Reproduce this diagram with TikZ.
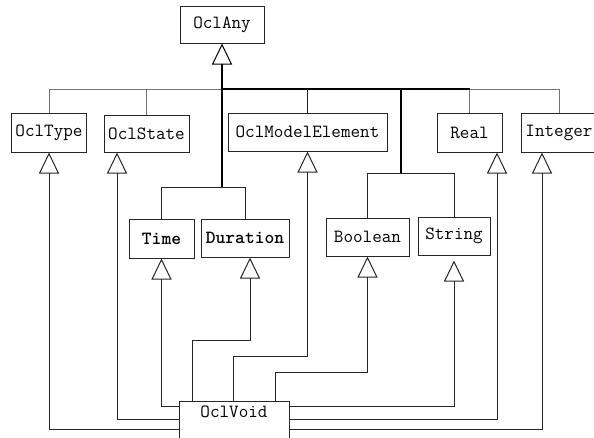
\documentclass[tikz,border=0pt]{standalone}
\usetikzlibrary{arrows.meta}

\tikzset{
  cls/.style={draw=black!85, line width=1pt, inner sep=0pt, font=\ttfamily\fontsize{18.6}{21}\selectfont},
  gen/.style={draw=black!85, line width=1pt, -{Triangle[open, length=21pt, width=20pt, line width=1pt]}},
  link/.style={draw=black!85, line width=1pt},
  dim/.style={draw=black!55, line width=1pt},
  trunk/.style={draw=black, line width=2pt},
}

\begin{document}
\begin{tikzpicture}[x=1pt, y=-1pt]
        \useasboundingbox (0,0) rectangle (594,437);
        \clip (0,0) rectangle (594,437);

        % Classes
        \node[cls, minimum width=84pt, minimum height=37pt] (oclany) at (222,24.5) {OclAny};
        \node[cls, minimum width=75pt, minimum height=39pt] (ocltype) at (49,132.5) {OclType};
        \node[cls, minimum width=85pt, minimum height=37pt] (oclstate) at (146.5,133.5) {OclState};
        \node[cls, minimum width=159pt, minimum height=38pt] (oclmodel) at (307.5,132) {OclModelElement};
        \node[cls, minimum width=65pt, minimum height=39pt] (real) at (469.5,132.5) {Real};
        \node[cls, minimum width=76pt, minimum height=39pt] (integer) at (559,132.5) {Integer};
        \node[cls, minimum width=65pt, minimum height=39pt] (time) at (161.5,238.5) {\bfseries Time};
        \node[cls, minimum width=88pt, minimum height=38pt] (duration) at (245,238) {\bfseries Duration};
        \node[cls, minimum width=83pt, minimum height=38pt] (boolean) at (367.5,237) {Boolean};
        \node[cls, minimum width=72pt, minimum height=38pt] (string) at (454,236) {String};
        \node[cls, anchor=north, minimum width=110pt, inner ysep=4pt, text height=12pt, text depth=40pt] (oclvoid) at (234,401) {OclVoid};

        % Arrow tips off the middle of a box
        \coordinate (statetip) at ([xshift=-29.5pt]oclstate.south);
        \coordinate (realtip) at ([xshift=27.5pt]real.south);
        \coordinate (inttip) at ([xshift=-17pt]integer.south);
        \coordinate (durtip) at ([xshift=5pt]duration.south);
        \coordinate (strtip) at ([yshift=-5pt]string.south);

        % Tree up to OclAny
        \coordinate (hub) at (oclany.south |- 0,89);
        \draw[dim] (ocltype.north) |- (hub);
        \draw[dim] (oclstate.north) -- (oclstate.north |- hub);
        \draw[dim] (real.north) |- (integer.north |- hub) -- (integer.north);
        \draw[trunk] (hub) -- (real.north |- hub);
        \draw[link] (oclmodel.north) -- (oclmodel.north |- hub);
        \draw[trunk] (401,0 |- hub) -- (401,173);
        \draw[link] (boolean.north) |- (string.north |- 0,173) -- (string.north);
        \draw[link] (time.north) |- (duration.north |- 0,187) -- (duration.north);
        \draw[gen, trunk] (oclany.south |- 0,187) -- (oclany.south);

        % OclVoid under every class
        \draw[gen] (oclvoid.west |- 0,429) -| (ocltype.south);
        \draw[gen] (oclvoid.west |- 0,419) -| (statetip);
        \draw[gen] (oclvoid.west |- 0,406) -| (time.south);
        \draw[gen] (oclvoid.north -| 192,0) |- (durtip |- 0,340) -- (durtip);
        \draw[gen] (oclvoid.north -| 233,0) |- (oclmodel.south |- 0,356) -- (oclmodel.south);
        \draw[gen] (oclvoid.north -| 275,0) |- (boolean.south |- 0,372) -- (boolean.south);
        \draw[gen] (oclvoid.east |- 0,406) -| (strtip);
        \draw[gen] (oclvoid.east |- 0,419) -| (realtip);
        \draw[gen] (oclvoid.east |- 0,429) -| (inttip);
\end{tikzpicture}
\end{document}
